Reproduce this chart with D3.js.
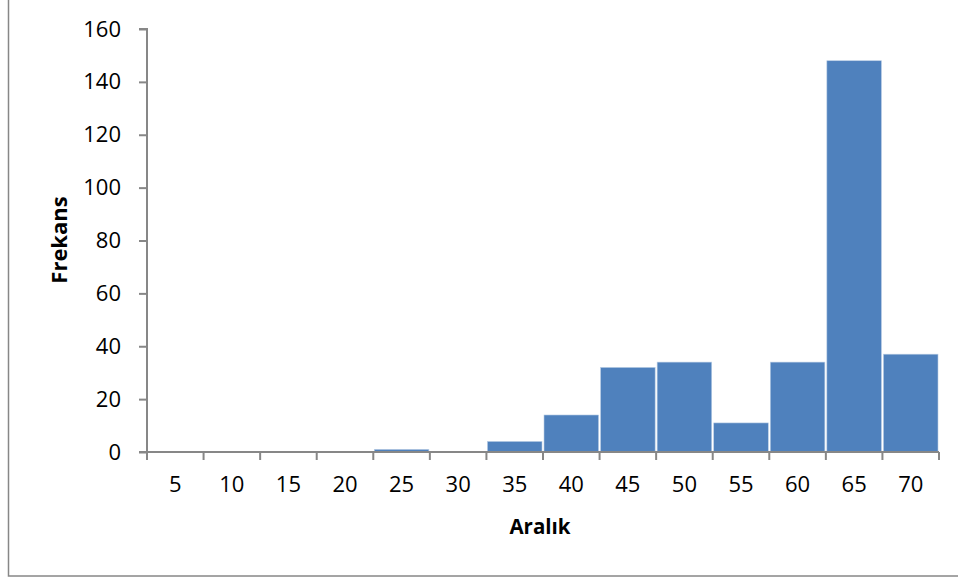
<!DOCTYPE html>
<html><head><meta charset="utf-8">
<script src="https://cdn.jsdelivr.net/npm/d3@7"></script>
<style>body{margin:0;background:#fff}svg{display:block}</style>
</head><body>
<script>
const categories = ["5","10","15","20","25","30","35","40","45","50","55","60","65","70"];
const values = [0,0,0,0,1,0,4,14,32,34,11,34,148,37];
const yTicks = [0,20,40,60,80,100,120,140,160];

const W = 958, H = 579;
const m = {left:147, right:19, top:29, bottom:127};
const svg = d3.select("body").append("svg").attr("width",W).attr("height",H);
const font = "'Open Sans', 'Noto Sans', sans-serif";

// outer border
svg.append("rect").attr("x",8.5).attr("y",-10).attr("width",W+10).attr("height",586)
  .attr("fill","none").attr("stroke","#878787").attr("stroke-width",1.5);

const x = d3.scaleBand().domain(categories).range([m.left, W-m.right]).padding(0);
const y = d3.scaleLinear().domain([0,160]).range([H-m.bottom, m.top]);

svg.append("g").selectAll("rect").data(values).join("rect")
  .attr("x",(d,i)=>x(categories[i])+1)
  .attr("width",x.bandwidth()-2)
  .attr("y",d=>y(d))
  .attr("height",d=>y(0)-y(d))
  .attr("fill","#4F81BD")
  .attr("stroke","#B9CDE5").attr("stroke-width",0.6);

// y axis
const ya = svg.append("g").attr("transform",`translate(${m.left},0)`)
  .call(d3.axisLeft(y).tickValues(yTicks).tickSize(8).tickPadding(18));
ya.select(".domain").attr("stroke","#878787").attr("stroke-width",2).attr("d",`M-8,${y(0)}H0V${y(160)}H-8`);
ya.selectAll(".tick line").attr("stroke","#878787").attr("stroke-width",2);
ya.selectAll("text").attr("font-family",font).attr("font-size",22).attr("fill","#000");

// x axis
const xa = svg.append("g").attr("transform",`translate(0,${y(0)})`)
  .call(d3.axisBottom(x).tickSize(0).tickPadding(24));
xa.select(".domain").attr("stroke","#878787").attr("stroke-width",2).attr("d",`M${m.left},0H${W-m.right}`);
xa.selectAll("text").attr("font-family",font).attr("font-size",22).attr("fill","#000");
// boundary ticks
const bounds = categories.map(c=>x(c)).concat([x(categories[categories.length-1])+x.bandwidth()]);
xa.append("g").selectAll("line").data(bounds).join("line")
  .attr("x1",d=>d).attr("x2",d=>d).attr("y1",0).attr("y2",8)
  .attr("stroke","#878787").attr("stroke-width",2);

svg.append("text").attr("x",(m.left+W-m.right)/2-3).attr("y",534)
  .attr("text-anchor","middle").attr("font-family",font).attr("font-weight","bold")
  .attr("font-size",20.5).text("Aralık");
svg.append("text").attr("transform",`translate(67,240) rotate(-90)`)
  .attr("text-anchor","middle").attr("font-family",font).attr("font-weight","bold")
  .attr("font-size",22).text("Frekans");
</script>
</body></html>
